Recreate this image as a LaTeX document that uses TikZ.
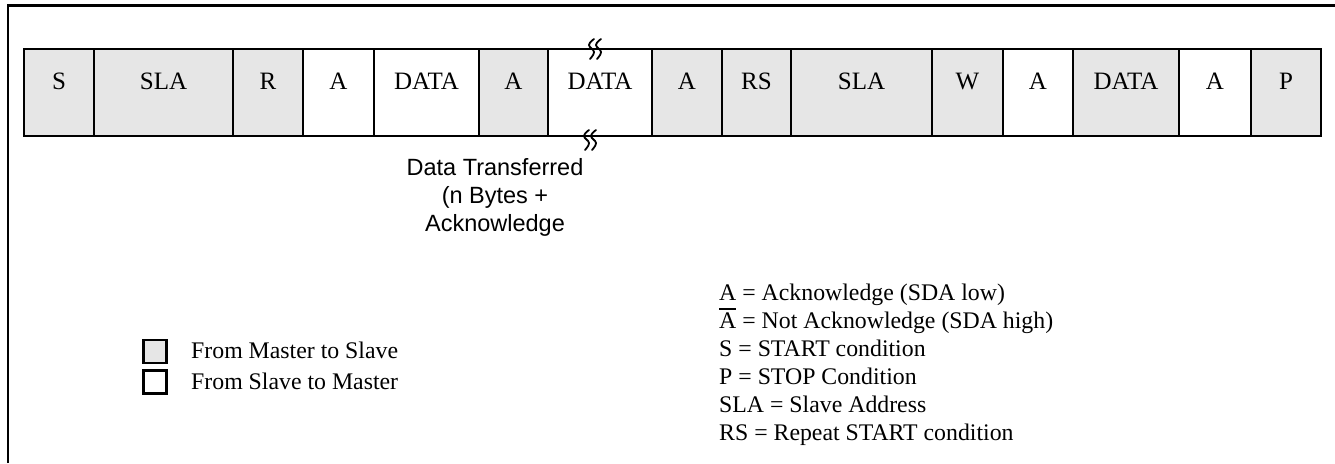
\documentclass[tikz,border=0pt]{standalone}
\usepackage{fontspec}
\setmainfont{Liberation Serif}
\newfontfamily\arialfont{Liberation Sans}
\definecolor{cg}{RGB}{230,230,230}
\begin{document}
\begin{tikzpicture}[x=1pt,y=-1pt,
  cell/.style={draw, line width=2.3pt, inner sep=0pt, minimum height=87pt},
  celltext/.style={font=\fontsize{25}{30}\selectfont, inner sep=0pt, anchor=base},
  leg/.style={font=\fontsize{23.8}{28}\selectfont, inner sep=0pt, anchor=base west},
  legbox/.style={draw, line width=2.2pt, inner sep=0pt, minimum size=23pt},
  sanslab/.style={font=\arialfont\fontsize{23.5}{28}\selectfont, inner sep=0pt, anchor=base, align=center},
  squig/.pic={\foreach \dx in {-3.5,3.5} \draw[line width=1.8pt, line cap=round] plot[smooth, tension=0.7] coordinates {({\dx+2.5},-10) ({\dx-2.5},-4) ({\dx+2.5},3) ({\dx-1.5},10)};}
]
\useasboundingbox (0,0) rectangle (1335,463);
\draw[line width=2.8pt] (8,463) -- (8,5.5) -- (1335,5.5);
\foreach \l/\r/\t/\f [count=\i] in {24/94/S/cg, 94/233/SLA/cg, 233/303/R/cg, 303/374/A/white, 374/479/DATA/white, 479/548/A/cg, 548/652/DATA/white, 652/722/A/cg, 722/791/RS/cg, 791/932/SLA/cg, 932/1003/W/cg, 1003/1073/A/white, 1073/1179/DATA/cg, 1179/1251/A/white, 1251/1321/P/cg}{
  \pgfmathsetmacro\w{\r-\l}
  \pgfmathsetmacro\cx{(\l+\r)/2}
  \node[cell, fill=\f, minimum width=\w pt] (c\i) at (\cx,92.5) {};
  \node[celltext] (t\i) at (\cx,89) {\t};
}
\pic (sq1) at (595,49) {squig};
\pic (sq2) at (590,140) {squig};
\node[sanslab] (dt) at (495,231) {Data Transferred\\(n Bytes +\\Acknowledge};
\node[legbox, fill=cg] (lg1) at (155,351.5) {};
\node[legbox, fill=white] (lg2) at (155,382) {};
\node[leg] (lt1) at (191,358.6) {From Master to Slave};
\node[leg] (lt2) at (191,389.3) {From Slave to Master};
\node[leg] (k1) at (719,300.7) {A = Acknowledge (SDA low)};
\node[leg] (k2) at (719,328.6) {\rlap{\rule[18.8pt]{17pt}{1.7pt}}A = Not Acknowledge (SDA high)};
\node[leg] (k3) at (719,356.5) {S = START condition};
\node[leg] (k4) at (719,384.4) {P = STOP Condition};
\node[leg] (k5) at (719,412.3) {SLA = Slave Address};
\node[leg] (k6) at (719,440.2) {RS = Repeat START condition};
\end{tikzpicture}
\end{document}
